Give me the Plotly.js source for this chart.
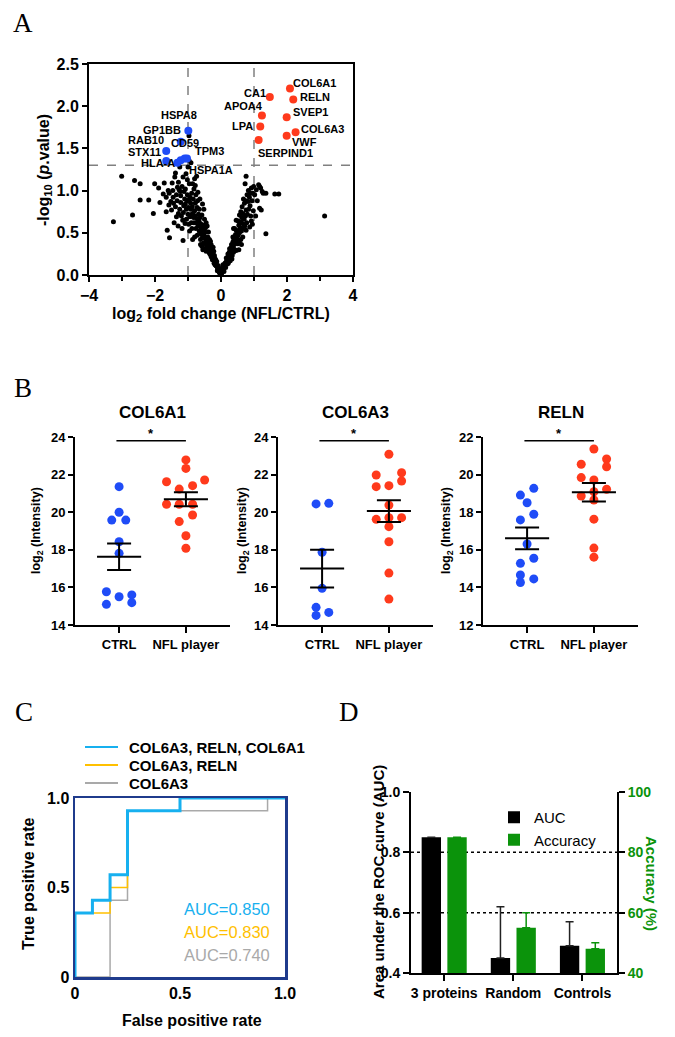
<!DOCTYPE html>
<html><head><meta charset="utf-8">
<script src="https://cdn.plot.ly/plotly-3.0.1.min.js"></script>
<style>html,body{margin:0;padding:0;background:#fff}#chart{width:675px;height:1037px}</style>
</head><body><div id="chart"></div>
<script>
// ================= DATA =================
// Panel A: volcano plot (log2 fold change, -log10 p)
const volcanoX = [
 -3.26,-3.01,-2.68,-2.62,-2.45,-2.45,-2.19,-2.05,-2.01,-1.89, -1.72,-1.66,-1.63,-1.56,-1.60,-1.48,-1.45,-1.38,-1.29,-1.27,
 -1.22,-1.58,-1.50,-1.66,-1.38,-1.29,-1.22,-1.15,-1.09,-1.05, -1.57,-1.52,-1.44,-1.35,-1.33,-1.18,-1.12,-1.10,-1.08,-1.02,
 -1.25,-1.20,-1.14,-1.35,-1.42,-1.30,-1.18,-1.05,-1.00,-0.98, -1.40,-1.15,-1.02,-0.96,-1.25,-1.00,-0.97,-0.97,-0.91,-1.75,
 -1.85,
 -0.97,-0.89,-0.82,-0.76,-0.87,-0.78,-0.71,-0.66,-0.85,-0.74, -0.66,-0.58,-0.54,-0.48,-0.61,-0.92,-0.94,-0.90,-0.84,-0.80,
 -0.72,-0.68,-0.63,-0.60,-0.57,-0.70,-0.76,-0.82,-0.88,-0.95, -0.86,-0.78,-0.70,-0.64,-0.56,-0.52,-0.50,-0.45,-0.47,-0.42,
 -0.66,-0.72,-0.80,-0.86,-0.62,-0.56,-0.50,-0.53,-0.46,-0.40, -0.38,-0.35,-0.58,-0.44,-0.80,-0.74,-1.06,
 -0.38,-0.51,-0.31,-0.28,-0.20,-0.15,-0.10,-0.05,0.00,-0.33, -0.36,-0.30,-0.27,-0.25,-0.23,-0.22,-0.19,-0.17,-0.14,-0.12,
 -0.09,-0.07,-0.03,-0.02,-0.40,-0.42,-0.34,-0.30,-0.26,-0.21, -0.16,-0.11,-0.32,-0.24,-0.45,
 -0.44,-0.41,-0.39,-0.37,-0.35,-0.33,-0.31,-0.29,-0.28,-0.26, -0.24,-0.22,-0.20,-0.18,-0.13,-0.08,-0.06,-0.04,-0.48,-0.52,
 -0.55,-0.60,-0.64,-0.68,-0.74,-0.78,-0.83,-0.88,-0.92,-0.94, -1.03,-1.08,-1.13,-1.23,-1.32,-1.46,-1.16,-0.99,-0.62,-0.55,
 0.05,0.10,0.15,0.20,0.25,0.31,0.36,0.41,0.38,0.46, 0.54,0.61,0.66,0.76,0.71,0.64,0.82,0.89,0.97,0.73,
 0.92,0.92,0.87,0.76,0.66,0.51,0.46,0.34,0.28,0.41, 0.56,0.46,0.02,0.04,0.08,0.12,0.14,0.18,0.22,0.24,
 0.27,0.30,0.33,0.35,0.38,0.40,0.43,0.48,0.52,0.56, 0.58,0.60,0.62,0.68,0.70,0.74,0.78,0.80,0.84,0.88,
 0.94,0.98,0.68,0.60,0.52,0.44,0.36,0.54,0.62,0.76,
 0.06,0.09,0.13,0.16,0.19,0.21,0.23,0.26,0.29,0.32, 0.37,0.39,0.42,0.45,0.47,0.50,0.55,0.57,0.63,0.65,
 0.72,0.75,0.79,0.86,0.90,0.95,0.99,0.83,
 1.02,1.07,1.14,1.17,1.25,1.36,1.17,1.22,1.36,1.63,1.75,3.14,1.28,1.05,1.10,1.20
];
const volcanoY = [
 0.63,1.17,0.71,1.12,1.08,0.89,0.89,0.73,1.08,1.03, 1.09,0.92,0.53,0.44,1.00,1.09,0.92,1.21,1.10,1.01,
 0.94,0.83,0.77,0.75,0.81,0.73,0.86,0.41,0.61,0.78, 0.97,0.87,0.85,0.95,0.88,1.05,0.99,0.90,0.84,0.95,
 0.78,0.70,0.74,0.69,0.62,0.58,0.55,0.66,0.72,0.60, 1.16,1.16,1.13,1.08,1.28,1.28,1.36,1.65,1.33,0.96,
 0.86,
 0.89,0.97,1.02,0.95,0.81,0.85,0.88,0.78,0.73,0.67, 0.63,0.71,0.59,0.51,0.49,0.78,0.69,0.62,0.90,0.76,
 0.80,0.72,0.68,0.60,0.55,0.58,0.55,0.62,0.55,0.52, 1.08,1.06,0.98,0.90,0.84,0.78,0.66,0.62,0.56,0.58,
 0.52,0.47,0.45,0.42,0.42,0.45,0.44,0.38,0.41,0.45, 0.51,0.42,0.34,0.35,1.14,1.17,1.20,
 0.35,0.31,0.29,0.21,0.17,0.11,0.07,0.03,0.01,0.33, 0.27,0.36,0.31,0.25,0.22,0.28,0.20,0.15,0.13,0.10,
 0.08,0.05,0.02,0.04,0.30,0.38,0.25,0.22,0.18,0.14, 0.18,0.05,0.40,0.33,0.28,
 0.40,0.33,0.42,0.38,0.32,0.28,0.24,0.27,0.33,0.28, 0.24,0.19,0.23,0.12,0.16,0.11,0.08,0.06,0.45,0.48,
 0.52,0.55,0.58,0.64,0.62,0.70,0.68,0.72,0.85,0.92, 0.88,1.02,0.82,0.99,1.04,1.00,0.65,0.80,0.36,0.30,
 0.05,0.10,0.15,0.21,0.27,0.33,0.39,0.45,0.55,0.53, 0.59,0.63,0.73,0.77,0.85,0.81,0.87,0.97,0.97,1.08,
 1.03,0.64,0.57,0.53,0.45,0.37,0.29,0.23,0.17,0.55, 0.71,0.65,0.02,0.08,0.06,0.14,0.09,0.17,0.14,0.20,
 0.24,0.28,0.19,0.31,0.27,0.36,0.40,0.43,0.47,0.50, 0.56,0.42,0.52,0.60,0.66,0.70,0.62,0.72,0.78,0.82,
 0.88,0.76,0.90,0.75,0.64,0.48,0.45,0.30,0.36,1.17,
 0.12,0.04,0.12,0.20,0.13,0.25,0.17,0.31,0.22,0.36, 0.33,0.42,0.30,0.38,0.46,0.52,0.40,0.62,0.68,0.55,
 0.58,0.88,0.95,0.92,0.70,0.60,1.05,1.00,
 0.95,1.01,1.07,1.05,0.99,0.97,0.79,0.77,0.49,0.96,0.96,0.70,0.97,0.70,0.88,1.03
];
const downX = [-0.99,-1.22,-1.66,-1.66,-1.32,-1.22,-1.10,-1.03];
const downY = [1.71,1.58,1.47,1.35,1.33,1.36,1.38,1.38];
const upX = [2.09,1.48,2.19,1.24,1.99,1.19,2.26,1.99,1.14];
const upY = [2.21,2.11,2.08,1.89,1.87,1.76,1.69,1.65,1.60];
const labelGenes = ['COL6A1','CA1','RELN','APOA4','SVEP1','LPA','COL6A3','VWF','SERPIND1',
                    'HSPA8','GP1BB','RAB10','CD59','STX11','TPM3','HLA-A','HSPA1A'];
const fcCutoffs = [-1, 1];
const pCutoff = 1.30;

// Panel B: log2 intensities per group
const groupLabels = ['CTRL', 'NFL player'];
const proteinTitles = ['COL6A1', 'COL6A3', 'RELN'];
const col6a1Ctrl = [21.36,20.00,19.58,19.58,18.43,17.81,15.77,15.50,15.60,15.10,15.19];
const col6a1Nfl  = [22.78,22.33,21.62,21.71,21.23,21.41,20.42,20.42,20.42,19.85,19.50,18.75,18.08];
const col6a3Ctrl = [20.44,20.47,17.87,15.95,14.94,14.51,14.67];
const col6a3Nfl  = [23.08,21.98,22.10,21.36,21.41,21.66,20.38,19.62,19.71,19.71,19.23,18.43,16.76,15.38];
const relnCtrl   = [19.27,18.91,18.50,17.59,17.89,16.31,15.28,15.55,14.66,14.26,14.45];
const relnNfl    = [21.36,20.55,20.83,20.42,19.84,19.71,19.22,18.86,19.09,18.65,17.63,16.09,15.61];
const col6a1Mean = [17.63, 20.69], col6a1Sem = [0.71, 0.37];
const col6a3Mean = [17.00, 20.06], col6a3Sem = [1.00, 0.58];
const relnMean   = [16.61, 19.06], relnSem   = [0.58, 0.49];
const sigLevel = [23.8, 23.8, 21.8];

// Panel C: ROC curves
const rocNames = ['COL6A3, RELN, COL6A1', 'COL6A3, RELN', 'COL6A3'];
const rocFpr3 = [0,0,0.083,0.083,0.167,0.167,0.25,0.25,0.5,0.5,1];
const rocTpr3 = [0,0.357,0.357,0.429,0.429,0.571,0.571,0.929,0.929,1,1];
const rocFpr2 = [0,0,0.167,0.167,0.25,0.25,0.5,0.5,1];
const rocTpr2 = [0,0.357,0.357,0.5,0.5,0.929,0.929,1,1];
const rocFpr1 = [0,0.167,0.167,0.25,0.25,0.917,0.917,1];
const rocTpr1 = [0,0,0.429,0.429,0.929,0.929,1,1];
const aucValues = [0.850, 0.830, 0.740];

// Panel D: AUC and accuracy
const modelCats = ['3 proteins', 'Random', 'Controls'];
const aucBars = [0.85, 0.45, 0.49];
const aucErr = [0, 0.17, 0.08];
const accBars = [85, 55, 48];
const accErr = [0, 5, 2];
const refLevels = [0.8, 0.6];

// ================= LAYOUT HELPERS =================
const W = 675, H = 1037;
const fx = p => p / W;
const fy = p => 1 - p / H;
const FONT = '"Liberation Sans", Arial, Helvetica, sans-serif';
const f = (size, color = '#000', weight = 'bold') => ({ family: FONT, size, color, weight });
const BLUE = '#1f4cf7', RED = '#ff3a1c', GREEN = '#0b930b';
const ROCC = ['#17b0ef', '#ffc000', '#a9a9a9'];

function ax(extra) {
  return Object.assign({
    showgrid: false, zeroline: false, showline: true, linecolor: '#000', linewidth: 2,
    ticks: 'outside', ticklen: 5, tickwidth: 2, tickcolor: '#000', fixedrange: true
  }, extra);
}

const traces = [];
// ---- A ----
traces.push({ x: volcanoX, y: volcanoY, xaxis: 'x', yaxis: 'y', type: 'scatter', mode: 'markers',
  marker: { size: 5, color: '#000' }, showlegend: false, cliponaxis: false });
traces.push({ x: downX, y: downY, xaxis: 'x', yaxis: 'y', type: 'scatter', mode: 'markers',
  marker: { size: 8, color: BLUE }, showlegend: false });
traces.push({ x: upX, y: upY, xaxis: 'x', yaxis: 'y', type: 'scatter', mode: 'markers',
  marker: { size: 8, color: RED }, showlegend: false });

// ---- B ----
const jitCtrl = [
  [0,0,-0.11,0.10,0,0,-0.19,0,0.19,-0.19,0.19],
  [-0.09,0.10,0,0,-0.09,-0.09,0.10],
  [0.10,-0.10,0,-0.10,0.10,0,-0.10,0.10,-0.10,-0.10,0.10]
];
const jitNfl = [
  [0,0,-0.29,0.28,-0.10,0.10,-0.29,-0.10,0.10,0.10,-0.10,0,0],
  [0,-0.19,0.19,-0.19,0,0.19,0,-0.19,0,0.19,0,0,0,0],
  [0,-0.19,0.19,0.19,-0.19,0,0.19,-0.19,0,0,0,0,0]
];
const bCtrl = [col6a1Ctrl, col6a3Ctrl, relnCtrl];
const bNfl = [col6a1Nfl, col6a3Nfl, relnNfl];
const bMean = [col6a1Mean, col6a3Mean, relnMean];
const bSem = [col6a1Sem, col6a3Sem, relnSem];
for (let i = 0; i < 3; i++) {
  const xa = 'x' + (i + 2), ya = 'y' + (i + 2);
  traces.push({ x: bCtrl[i].map((v, k) => 0 + jitCtrl[i][k]), y: bCtrl[i], xaxis: xa, yaxis: ya,
    type: 'scatter', mode: 'markers', marker: { size: 9, color: BLUE }, showlegend: false, cliponaxis: false });
  traces.push({ x: bNfl[i].map((v, k) => 1 + jitNfl[i][k]), y: bNfl[i], xaxis: xa, yaxis: ya,
    type: 'scatter', mode: 'markers', marker: { size: 9, color: RED }, showlegend: false, cliponaxis: false });
  traces.push({ x: [0, 1], y: bMean[i], xaxis: xa, yaxis: ya, type: 'scatter', mode: 'markers',
    marker: { symbol: 'line-ew-open', size: 31.5, line: { width: 2, color: '#000' }, color: '#000' },
    error_y: { type: 'data', array: bSem[i], width: 12, thickness: 2, color: '#000' },
    showlegend: false, cliponaxis: false });
  traces.push({ x: [-0.04, 1], y: [sigLevel[i], sigLevel[i]], xaxis: xa, yaxis: ya, type: 'scatter',
    mode: 'lines', line: { width: 1.5, color: '#000' }, showlegend: false, cliponaxis: false });
}

// ---- C ----
const rocF = [rocFpr3, rocFpr2, rocFpr1], rocT = [rocTpr3, rocTpr2, rocTpr1];
const rocW = [3, 1.5, 1.5];
for (let i = 2; i >= 0; i--) {
  traces.push({ x: rocF[i], y: rocT[i], xaxis: 'x5', yaxis: 'y5', type: 'scatter', mode: 'lines',
    name: rocNames[i], line: { color: ROCC[i], width: rocW[i] }, showlegend: false });
}

// ---- D ----
traces.push({ x: modelCats, y: aucBars, xaxis: 'x6', yaxis: 'y6', type: 'bar', name: 'AUC',
  marker: { color: '#000' }, offset: -0.326, width: 0.28, legend: 'legend2',
  error_y: { type: 'data', symmetric: false, array: aucErr, arrayminus: aucErr.map(() => 0),
    width: 4, thickness: 1.5, color: '#222' } });
traces.push({ x: modelCats, y: accBars, xaxis: 'x6', yaxis: 'y7', type: 'bar', name: 'Accuracy',
  marker: { color: GREEN }, offset: 0.046, width: 0.28, legend: 'legend2',
  error_y: { type: 'data', symmetric: false, array: accErr, arrayminus: accErr.map(() => 0),
    width: 4, thickness: 1.5, color: GREEN } });

// ================= LAYOUT =================
const layout = {
  width: W, height: H, margin: { l: 0, r: 0, t: 0, b: 0 },
  paper_bgcolor: '#fff', plot_bgcolor: 'rgba(0,0,0,0)',
  hovermode: false, font: { family: FONT, color: '#000' },
  xaxis: ax({ domain: [fx(89), fx(353)], anchor: 'y', range: [-4, 4], dtick: 2, tick0: -4, mirror: true,
    tickfont: f(16), minor: { dtick: 1, ticks: 'outside', ticklen: 4, tickwidth: 2, tickcolor: '#000' } }),
  yaxis: ax({ domain: [fy(275), fy(64)], anchor: 'x', range: [0, 2.5], dtick: 0.5, tickformat: '.1f',
    mirror: true, tickfont: f(16) }),
  xaxis5: ax({ domain: [fx(75), fx(285)], anchor: 'y5', range: [0, 1], tickvals: [0, 0.5, 1],
    ticktext: ['0', '0.5', '1.0'], mirror: true, linecolor: '#1f3b8c', linewidth: 2.5, ticks: '',
    tickfont: f(16), layer: 'below traces' }),
  yaxis5: ax({ domain: [fy(977), fy(798)], anchor: 'x5', range: [0, 1], tickvals: [0, 0.5, 1],
    ticktext: ['0', '0.5', '1.0'], mirror: true, linecolor: '#1f3b8c', linewidth: 2.5, ticks: '',
    tickfont: f(16), layer: 'below traces' }),
  xaxis6: ax({ domain: [fx(411), fx(617)], anchor: 'y6', type: 'category', categoryarray: modelCats,
    range: [-0.48, 2.5], tickfont: f(14), ticklen: 6 }),
  yaxis6: ax({ domain: [fy(973), fy(792)], anchor: 'x6', range: [0.4, 1.0], dtick: 0.2, tickformat: '.1f',
    tickfont: f(14), ticklen: 6 }),
  yaxis7: ax({ overlaying: 'y6', anchor: 'x6', side: 'right', range: [40, 100], dtick: 20,
    tickfont: f(14, GREEN), ticklen: 6 }),
  legend2: { x: fx(494), y: fy(801), xanchor: 'left', yanchor: 'top', font: f(15, '#000', 'normal'),
    bgcolor: 'rgba(0,0,0,0)', tracegroupgap: 0, traceorder: 'normal' },
  shapes: [], annotations: []
};
const bLeft = [75, 278, 483];
const bRanges = [[14, 24], [14, 24], [12, 22]];
for (let i = 0; i < 3; i++) {
  layout['xaxis' + (i + 2)] = ax({ domain: [fx(bLeft[i]), fx(bLeft[i] + 155)], anchor: 'y' + (i + 2),
    range: [-0.66, 1.66], tickvals: [0, 1], ticktext: groupLabels, tickfont: f(13), ticklen: 6 });
  layout['yaxis' + (i + 2)] = ax({ domain: [fy(625), fy(437)], anchor: 'x' + (i + 2),
    range: bRanges[i], dtick: 2, tickfont: f(13), ticklen: 5 });
}

// Volcano cut-off lines
const dashLine = { color: '#808080', width: 1.5, dash: 'dash' };
fcCutoffs.forEach(c => layout.shapes.push({ type: 'line', xref: 'x', yref: 'y', x0: c, x1: c, y0: 0, y1: 2.5,
  line: dashLine, layer: 'below' }));
layout.shapes.push({ type: 'line', xref: 'x', yref: 'y', x0: -4, x1: 4, y0: pCutoff, y1: pCutoff,
  line: dashLine, layer: 'below' });
// Panel D dotted reference lines
refLevels.forEach(v => layout.shapes.push({ type: 'line', xref: 'x6 domain', yref: 'y6', x0: 0, x1: 1,
  y0: v, y1: v, line: { color: '#000', width: 1.5, dash: 'dot' }, layer: 'below' }));

const A = layout.annotations;
const txt = (text, x, y, font, extra) => A.push(Object.assign({ text, x: fx(x), y: fy(y), xref: 'paper',
  yref: 'paper', showarrow: false, font, xanchor: 'center', yanchor: 'middle' }, extra || {}));
// panel letters
const serif = { family: '"Liberation Serif", "Times New Roman", serif', size: 27, color: '#000' };
txt('A', 23, 23, serif); txt('B', 23, 388, serif); txt('C', 24, 712, serif); txt('D', 349, 712, serif);

// A axis titles
txt('log<sub>2</sub> fold change (NFL/CTRL)', 221, 314, f(16));
txt('-log<sub>10</sub> (<i>p</i>.value)', 45, 170, f(16), { textangle: -90 });
// volcano gene labels
const labelX = [2.15,1.39,2.36,1.29,2.15,0.99,2.39,2.12,1.08,-0.69,-1.18,-1.71,-1.56,-1.79,-0.82,-1.35,-1.00];
const labelY = [2.28,2.16,2.11,2.00,1.93,1.77,1.73,1.57,1.45,1.89,1.72,1.60,1.56,1.46,1.47,1.33,1.24];
const labelSide = ['left','right','left','right','left','right','left','left','left',
                   'right','right','right','left','right','left','right','left'];
labelGenes.forEach((g, i) => A.push({ text: g, x: labelX[i], y: labelY[i], xref: 'x', yref: 'y',
  xanchor: labelSide[i], yanchor: 'middle', showarrow: false, font: f(11), borderpad: 0 }));

// B titles, y titles, asterisks
const bYTitleX = [37, 243, 447];
for (let i = 0; i < 3; i++) {
  A.push({ text: proteinTitles[i], x: 0.5, y: fy(413), xref: 'x' + (i + 2), yref: 'paper', showarrow: false,
    xanchor: 'center', yanchor: 'middle', font: f(17) });
  A.push({ text: '*', x: 0.48, y: fy(433), xref: 'x' + (i + 2), yref: 'paper', showarrow: false,
    xanchor: 'center', yanchor: 'middle', font: f(13) });
  txt('log<sub>2</sub> (Intensity)', bYTitleX[i], 531, f(12.5), { textangle: -90 });
}

// C legend (line keys + labels), titles & AUC labels
const legRowY = [747, 765, 783];
rocNames.forEach((n, i) => {
  layout.shapes.push({ type: 'line', xref: 'paper', yref: 'paper', x0: fx(85), x1: fx(118),
    y0: fy(legRowY[i]), y1: fy(legRowY[i]), line: { color: ROCC[i], width: 2 } });
  txt(n, 127, legRowY[i], f(15), { xanchor: 'left' });
});
txt('True positive rate', 28, 884, f(16), { textangle: -90 });
txt('False positive rate', 192, 1020, f(16));
aucValues.forEach((v, i) => txt('AUC=' + v.toFixed(3), 272, 909 + 23 * i,
  { family: FONT, size: 16.5, color: ROCC[i] }, { xanchor: 'right' }));

// D titles
txt('Area under the ROC curve (AUC)', 378, 882, f(15), { textangle: -90 });
txt('Accuracy (%)', 652, 883, f(15, GREEN), { textangle: 90 });

Plotly.newPlot('chart', traces, layout, { staticPlot: true, displayModeBar: false });
</script>
</body></html>
